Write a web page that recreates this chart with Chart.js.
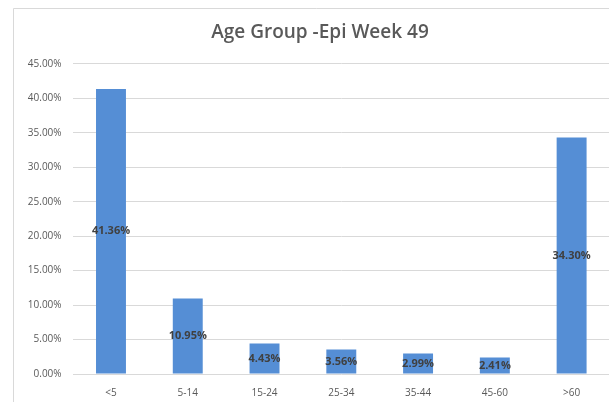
<!DOCTYPE html>
<html>
<head>
<meta charset="utf-8">
<title>Age Group -Epi Week 49</title>
<script src="https://cdn.jsdelivr.net/npm/chart.js@4/dist/chart.umd.min.js"></script>
<style>
  html, body { margin: 0; padding: 0; background: #fff; overflow: hidden; }
  #wrap { width: 620px; height: 402px; }
</style>
</head>
<body>
<div id="wrap"><canvas id="ageChart"></canvas></div>
<script>
const ageGroups = ['<5', '5-14', '15-24', '25-34', '35-44', '45-60', '>60'];
const sharePct = [41.36, 10.95, 4.43, 3.56, 2.99, 2.41, 34.30];
const axisMax = 45;
const axisStep = 5;

const textGrey = '#595959';
const gridGrey = '#d9d9d9';

// frame around the chart (only left and top edges show in the window)
const framePlugin = {
  id: 'frame',
  afterLayout(chart) {
    // centre the title on the whole frame, not just the padded box
    if (chart.titleBlock) {
      chart.titleBlock.left += 8.5;
      chart.titleBlock.right += 8.5;
    }
  },
  beforeDraw(chart) {
    const ctx = chart.ctx;
    ctx.save();
    ctx.fillStyle = '#fff';
    ctx.fillRect(0, 0, chart.width, chart.height);
    ctx.strokeStyle = gridGrey;
    ctx.lineWidth = 1;
    ctx.beginPath();
    ctx.moveTo(13.5, chart.height);
    ctx.lineTo(13.5, 8.5);
    ctx.lineTo(chart.width, 8.5);
    ctx.stroke();
    ctx.restore();
  }
};

// value labels in the middle of each bar
const barLabels = {
  id: 'barLabels',
  afterDatasetsDraw(chart) {
    const ctx = chart.ctx;
    const meta = chart.getDatasetMeta(0);
    ctx.save();
    ctx.font = 'bold 11px "Open Sans", sans-serif';
    ctx.fillStyle = '#404040';
    ctx.textAlign = 'center';
    ctx.textBaseline = 'middle';
    meta.data.forEach((bar, i) => {
      const y = (bar.y + bar.base) / 2;
      ctx.fillText(sharePct[i].toFixed(2) + '%', bar.x, y);
    });
    ctx.restore();
  }
};

new Chart(document.getElementById('ageChart'), {
  type: 'bar',
  data: {
    labels: ageGroups,
    datasets: [{
      data: sharePct,
      backgroundColor: '#558ed5',
      barPercentage: 0.39,
      categoryPercentage: 1
    }]
  },
  options: {
    responsive: true,
    maintainAspectRatio: false,
    animation: false,
    layout: { padding: { left: 13, right: 10, top: 8, bottom: 0 } },
    plugins: {
      legend: { display: false },
      tooltip: { enabled: false },
      title: {
        display: true,
        text: 'Age Group -Epi Week 49',
        color: textGrey,
        font: { family: '"Open Sans", sans-serif', size: 19, weight: '600' },
        padding: { top: 13, bottom: 20 }
      }
    },
    scales: {
      x: {
        afterFit(scale) { scale.height = 28; },
        grid: { display: false, drawTicks: false },
        border: { display: false },
        ticks: {
          color: textGrey,
          font: { family: '"Open Sans", sans-serif', size: 10 },
          padding: 13
        }
      },
      y: {
        min: 0,
        max: axisMax,
        afterFit(scale) { scale.width = 59.6; },
        grid: { color: gridGrey, drawTicks: false },
        border: { display: false },
        ticks: {
          stepSize: axisStep,
          color: textGrey,
          padding: 11,
          font: { family: '"Open Sans", sans-serif', size: 10 },
          callback: v => v.toFixed(2) + '%'
        }
      }
    }
  },
  plugins: [framePlugin, barLabels]
});
</script>
</body>
</html>
